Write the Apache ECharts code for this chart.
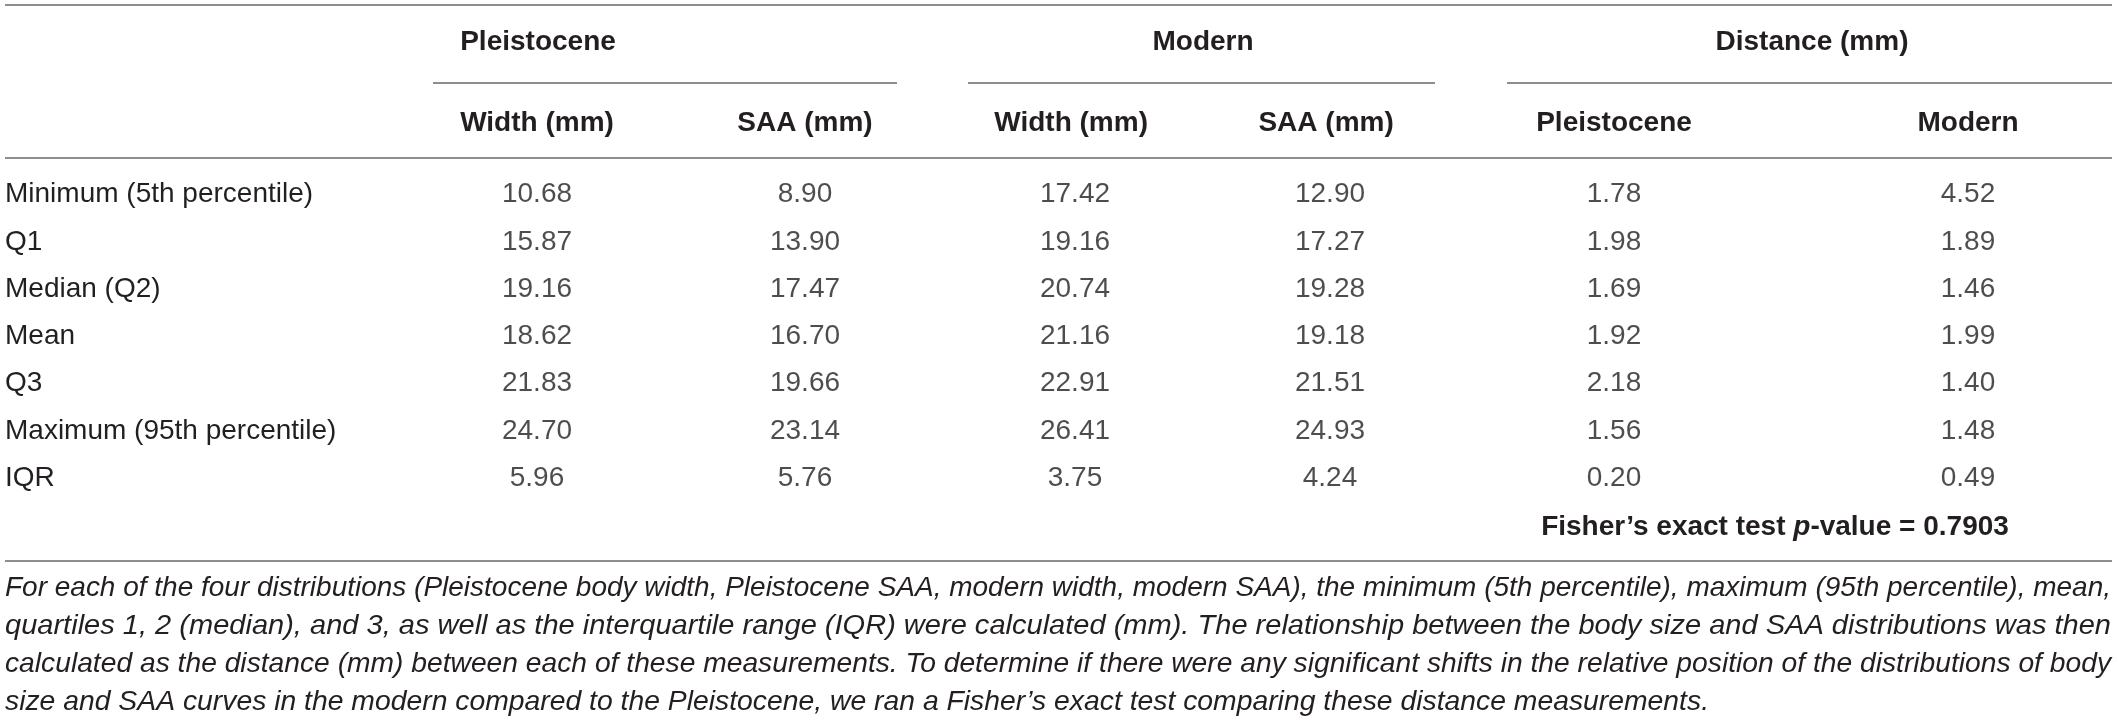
<!DOCTYPE html>
<html>
<head>
<meta charset="utf-8">
<script src="https://cdn.jsdelivr.net/npm/echarts@6/dist/echarts.min.js"></script>
<style>
  html, body { margin: 0; padding: 0; background: #fff; }
  #main { width: 2118px; height: 721px; }
</style>
</head>
<body>
<div id="main"></div>
<script>
// table data
const rowLabels = ['Minimum (5th percentile)', 'Q1', 'Median (Q2)', 'Mean', 'Q3', 'Maximum (95th percentile)', 'IQR']
const pleistoceneWidth = [10.68, 15.87, 19.16, 18.62, 21.83, 24.70, 5.96]
const pleistoceneSAA = [8.90, 13.90, 17.47, 16.70, 19.66, 23.14, 5.76]
const modernWidth = [17.42, 19.16, 20.74, 21.16, 22.91, 26.41, 3.75]
const modernSAA = [12.90, 17.27, 19.28, 19.18, 21.51, 24.93, 4.24]
const distancePleistocene = [1.78, 1.98, 1.69, 1.92, 2.18, 1.56, 0.20]
const distanceModern = [4.52, 1.89, 1.46, 1.99, 1.40, 1.48, 0.49]

const groupNames = ['Pleistocene', 'Modern', 'Distance (mm)']
const pleistoceneCols = ['Width (mm)', 'SAA (mm)']
const modernCols = ['Width (mm) ', 'SAA (mm) ']
const distanceCols = ['Pleistocene', 'Modern']
const fisherP = '0.7903'

const captionLines = [
  'For each of the four distributions (Pleistocene body width, Pleistocene SAA, modern width, modern SAA), the minimum (5th percentile), maximum (95th percentile), mean,',
  'quartiles 1, 2 (median), and 3, as well as the interquartile range (IQR) were calculated (mm). The relationship between the body size and SAA distributions was then',
  'calculated as the distance (mm) between each of these measurements. To determine if there were any significant shifts in the relative position of the distributions of body',
  'size and SAA curves in the modern compared to the Pleistocene, we ran a Fisher\u2019s exact test comparing these distance measurements.'
]

const FONT = '"Liberation Sans", Arial, sans-serif'
const TEXT = '#231f20'
const RULE = '#8e8e8e'

const chart = echarts.init(document.getElementById('main'), null, { renderer: 'canvas' })

// one grid per column group, rows share the same band layout
const gridTop = 171
const gridHeight = 330.75
const grids = [
  { left: 537, width: 268 },
  { left: 1075, width: 255 },
  { left: 1614, width: 354 }
].map(g => ({ ...g, top: gridTop, height: gridHeight, outerBoundsMode: 'none', containLabel: false }))

const colGroups = [pleistoceneCols, modernCols, distanceCols]
const xAxes = colGroups.map((cols, i) => ({
  type: 'category',
  gridIndex: i,
  position: 'top',
  boundaryGap: false,
  data: cols,
  axisLine: { show: false },
  axisTick: { show: false },
  splitLine: { show: false },
  axisLabel: {
    interval: 0,
    margin: 48,
    verticalAlign: 'middle',
    fontFamily: FONT,
    fontSize: 28,
    fontWeight: 'bold',
    color: TEXT
  }
}))

const yAxes = colGroups.map((cols, i) => ({
  type: 'category',
  gridIndex: i,
  inverse: true,
  data: rowLabels,
  axisLine: { show: false },
  axisTick: { show: false },
  splitLine: { show: false },
  axisLabel: {
    show: i === 0,
    interval: 0,
    align: 'left',
    margin: 532,
    fontFamily: FONT,
    fontSize: 28,
    color: TEXT
  }
}))

function cellSeries (values, col, gi) {
  return {
    type: 'scatter',
    xAxisIndex: gi,
    yAxisIndex: gi,
    symbolSize: 1,
    itemStyle: { color: 'rgba(0,0,0,0)' },
    silent: true,
    label: {
      show: true,
      position: 'inside',
      formatter: p => p.value[2].toFixed(2),
      fontFamily: FONT,
      fontSize: 28,
      color: TEXT
    },
    data: values.map((v, i) => [col, rowLabels[i], v])
  }
}

const series = [
  cellSeries(pleistoceneWidth, pleistoceneCols[0], 0),
  cellSeries(pleistoceneSAA, pleistoceneCols[1], 0),
  cellSeries(modernWidth, modernCols[0], 1),
  cellSeries(modernSAA, modernCols[1], 1),
  cellSeries(distancePleistocene, distanceCols[0], 2),
  cellSeries(distanceModern, distanceCols[1], 2)
]

// caption lines: each line is stretched to the width it has in the original
const ctx = document.createElement('canvas').getContext('2d')
const capFont = 'italic 28px ' + FONT
ctx.font = capFont
const capTargets = [2106, 2106, 2106, 1704]
const capY = [588, 626, 664, 702]
const captionEls = captionLines.map((line, i) => {
  const w = ctx.measureText(line).width
  return {
    type: 'text',
    x: 5,
    y: capY[i],
    scaleX: capTargets[i] / w,
    style: {
      text: line,
      font: capFont,
      fill: TEXT,
      textAlign: 'left',
      textVerticalAlign: 'middle'
    }
  }
})

function rule (x1, x2, y) {
  return {
    type: 'line',
    shape: { x1: x1, y1: y, x2: x2, y2: y },
    style: { stroke: RULE, lineWidth: 2 }
  }
}

function header (text, x) {
  return {
    type: 'text',
    x: x,
    y: 42,
    style: {
      text: text,
      font: 'bold 28px ' + FONT,
      fill: TEXT,
      textAlign: 'center',
      textVerticalAlign: 'middle'
    }
  }
}

chart.setOption({
  animation: false,
  backgroundColor: '#fff',
  grid: grids,
  xAxis: xAxes,
  yAxis: yAxes,
  series: series,
  graphic: [
    rule(5, 2112, 5),
    rule(433, 897, 83),
    rule(968, 1435, 83),
    rule(1507, 2112, 83),
    rule(5, 2112, 158),
    rule(5, 2112, 561),
    header(groupNames[0], 538),
    header(groupNames[1], 1203),
    header(groupNames[2], 1812),
    {
      type: 'text',
      x: 1775,
      y: 527,
      style: {
        text: '{b|Fisher\u2019s exact test }{bi|p}{b|-value = ' + fisherP + '}',
        textAlign: 'center',
        textVerticalAlign: 'middle',
        rich: {
          b: { font: 'bold 28px ' + FONT, fill: TEXT, color: TEXT },
          bi: { font: 'italic bold 28px ' + FONT, fill: TEXT, color: TEXT }
        }
      }
    },
    ...captionEls
  ]
})
</script>
</body>
</html>
